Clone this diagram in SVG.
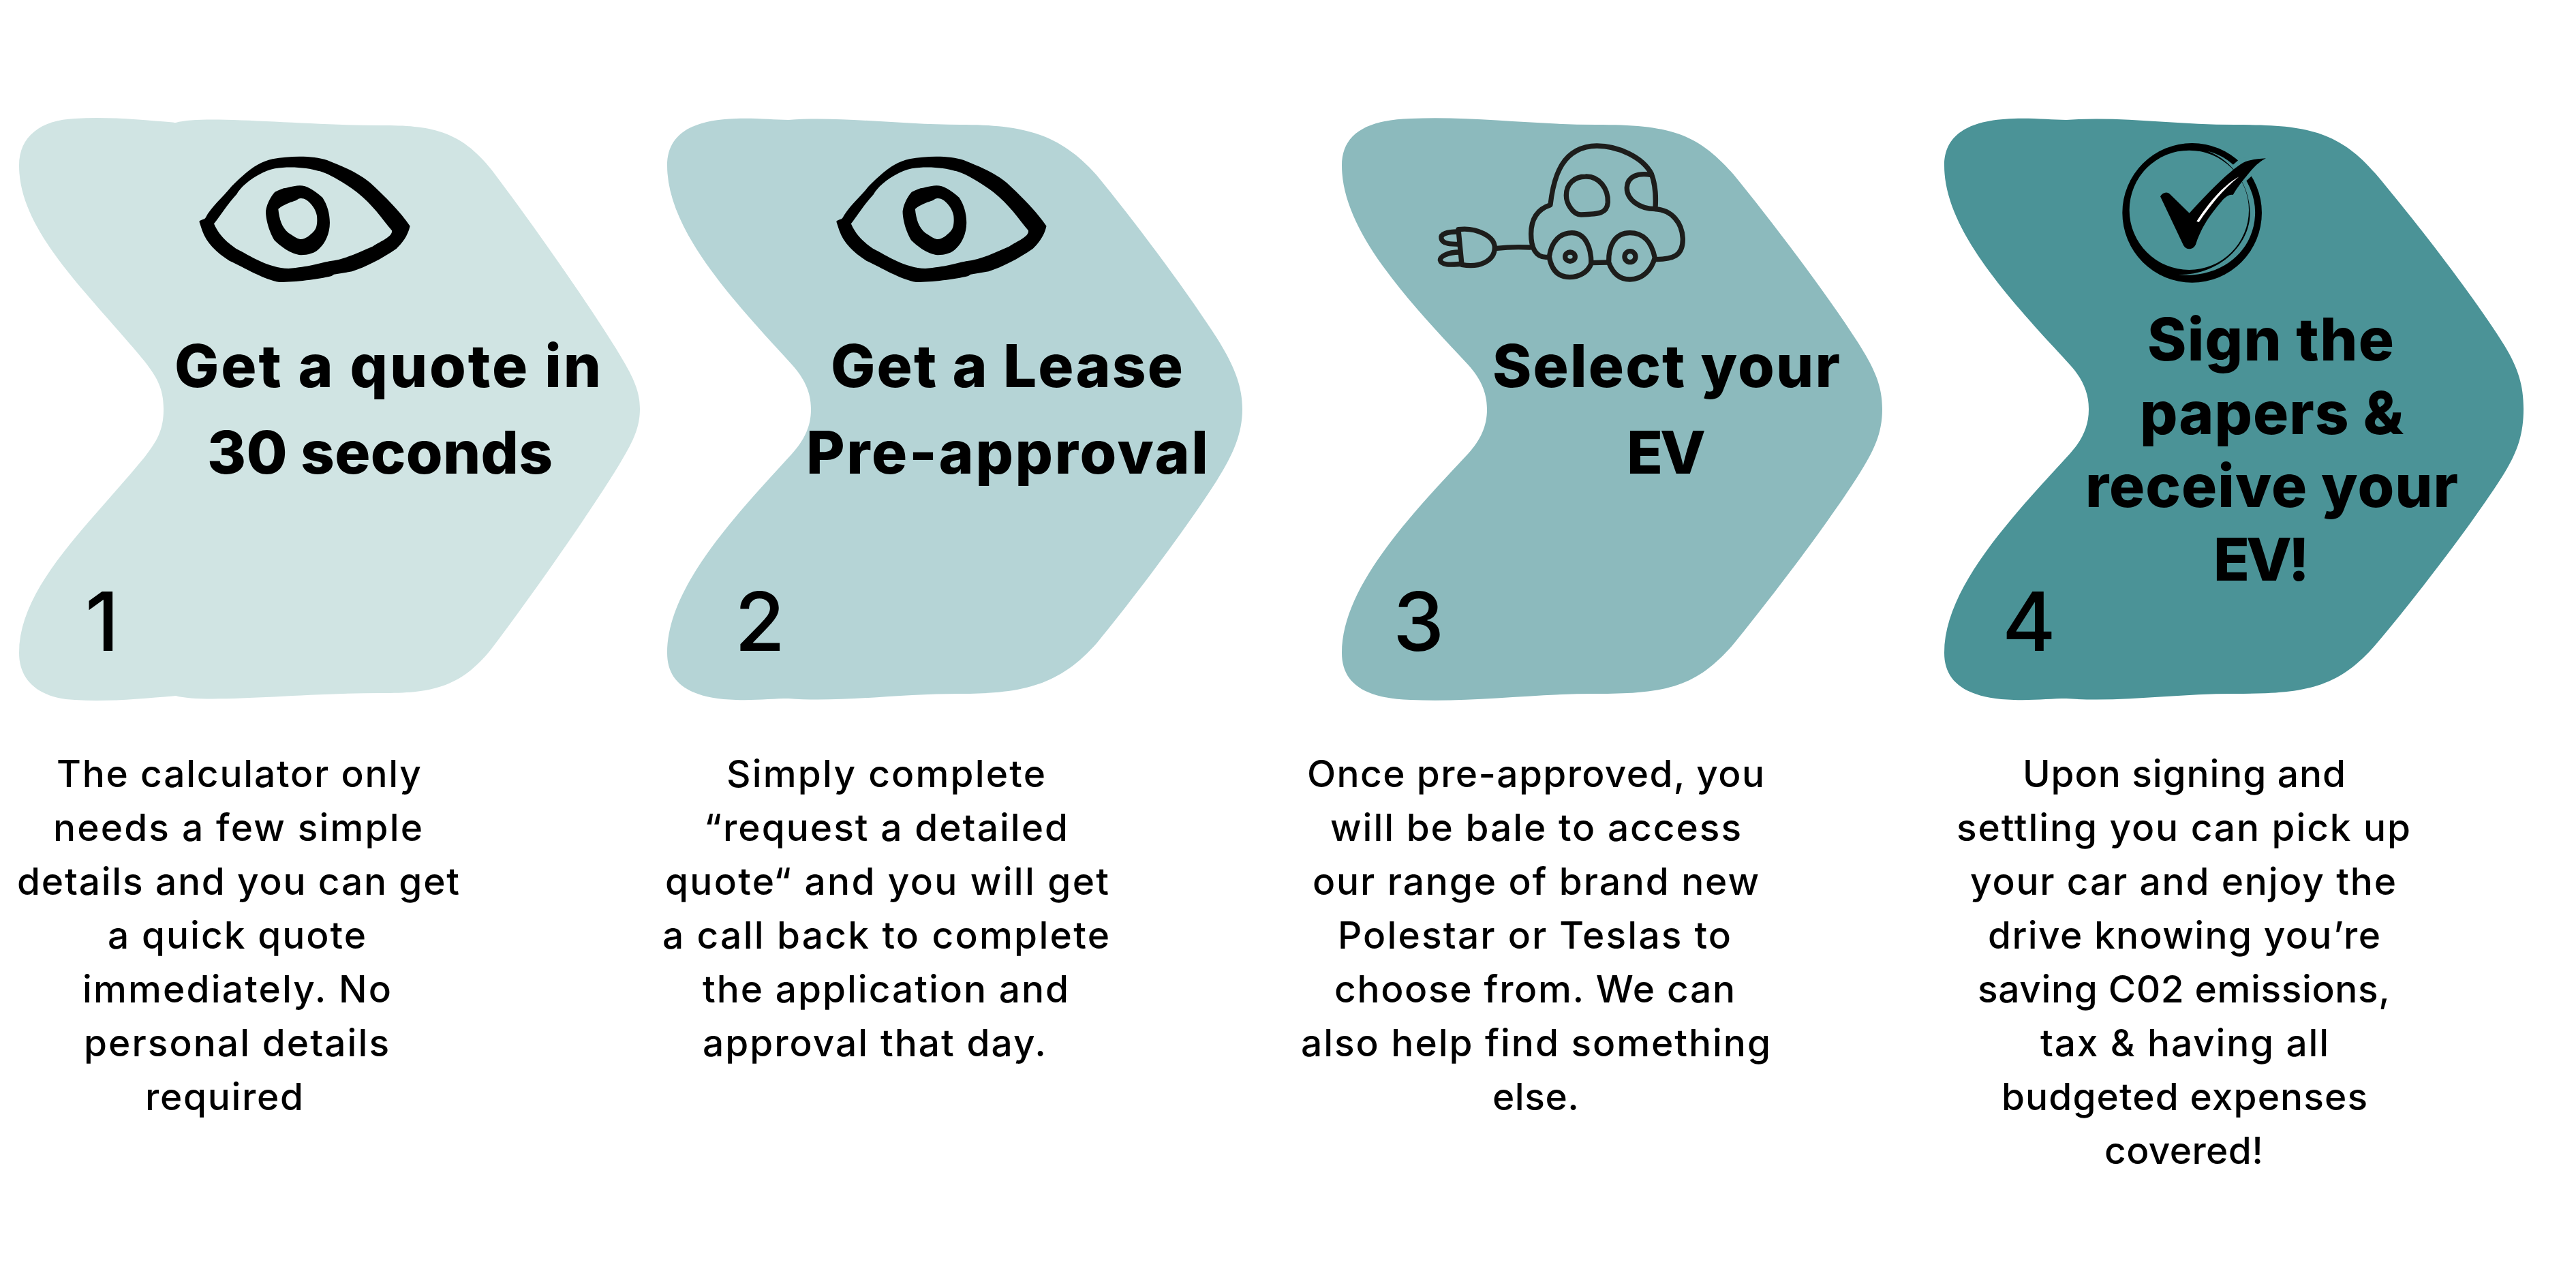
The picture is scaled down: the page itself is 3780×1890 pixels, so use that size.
<svg xmlns="http://www.w3.org/2000/svg" xmlns:xlink="http://www.w3.org/1999/xlink" width="3780" height="1890" viewBox="0 0 3780 1890">
<style>
.h{font-family:"Inter","Liberation Sans",sans-serif;font-weight:800;font-size:87px;fill:#000}
.b{font-family:"Inter","Liberation Sans",sans-serif;font-weight:500;font-size:55px;fill:#000}
.n{font-family:"Inter","Liberation Sans",sans-serif;font-weight:500;font-size:120px;fill:#000}
.car{fill:none;stroke:#1d1d1b;stroke-width:22;stroke-linecap:round;stroke-linejoin:round}
</style>
<defs>
<path id="eye" fill="#000" fill-rule="evenodd" d="M97 345 C105 335 118 338 124 330 C150 280 200 240 240 190 C300 130 350 85 420 70 C500 55 600 55 660 75 C720 100 790 125 850 175 C920 240 980 300 1025 365 C1015 410 990 440 965 465 C900 510 830 545 770 565 L690 578 L680 585 C620 600 520 612 450 612 C380 600 300 550 230 518 C170 480 130 440 110 385 Z M162 355 C190 420 240 450 260 465 C320 495 400 550 490 552 C580 545 620 530 670 520 C740 512 800 480 860 455 C900 430 950 410 945 385 C900 330 860 270 790 215 C730 170 650 125 620 122 C580 110 500 100 430 112 C350 130 280 190 262 225 C220 270 190 320 162 355 Z M390 300 C395 260 420 225 430 215 C450 205 465 198 480 197 C505 192 525 187 540 187 C570 187 600 205 640 240 C660 270 672 310 672 350 C672 400 650 440 630 460 C610 485 575 493 545 493 C500 490 450 450 430 430 C415 410 390 350 390 300 Z M445 290 C450 335 460 370 490 395 C520 415 535 423 545 423 C565 423 585 405 600 390 C615 375 618 350 615 320 C610 285 575 243 545 243 C530 243 530 252 515 255 C495 262 470 270 445 290 Z"/>
</defs>

<g id="step-1">
<path fill="#d0e4e3" d="M240 600 C240 570 230 553 212 530 C130 430 28 340 28 243 C28 200 60 176 110 174 C160 171 210 176 258 180 C300 168 440 184 560 184 C630 184 675 190 722 250 C790 340 880 470 912 525 C930 555 939 575 939 600 C939 626 930 646 912 676 C880 731 790 861 722 951 C675 1011 630 1017 560 1017 C440 1017 300 1033 258 1021 C210 1025 160 1030 110 1027 C60 1025 28 1001 28 958 C28 861 130 771 212 671 C230 648 240 631 240 601 Z"/>
<use xlink:href="#eye" href="#eye" transform="translate(260 210) scale(.3333)"/>
<text class="h" x="256" y="568" textLength="626">Get a quote in</text>
<text class="h" x="304" y="695" textLength="507">30 seconds</text>
<text class="n" x="125" y="955">1</text>
<g class="b">
<text x="83" y="1155" textLength="535">The calculator only</text>
<text x="78" y="1234" textLength="542">needs a few simple</text>
<text x="25" y="1313" textLength="649">details and you can get</text>
<text x="158" y="1392" textLength="379">a quick quote</text>
<text x="121" y="1471" textLength="453">immediately. No</text>
<text x="123" y="1550" textLength="448">personal details</text>
<text x="213" y="1629" textLength="232">required</text>
</g>
</g>

<g id="step-2">
<path fill="#b5d4d6" d="M1190 600 C1190 575 1180 555 1162 535 C1080 445 979 340 979 243 C979 200 1010 176 1080 174 C1110 173 1135 176 1157 176 C1230 170 1320 183 1409 183 C1500 183 1555 195 1610 258 C1665 325 1740 425 1785 495 C1810 535 1823 565 1823 600 C1823 636 1810 666 1785 706 C1740 776 1665 876 1610 943 C1555 1006 1500 1018 1409 1018 C1320 1018 1230 1031 1157 1025 C1135 1025 1110 1028 1080 1027 C1010 1025 979 1001 979 958 C979 861 1080 756 1162 666 C1180 646 1190 626 1190 601 Z"/>
<use xlink:href="#eye" href="#eye" transform="translate(1195 210) scale(.3322 .3333)"/>
<text class="h" x="1219" y="568" textLength="517">Get a Lease</text>
<text class="h" x="1183" y="695" textLength="590">Pre-approval</text>
<text class="n" x="1078" y="955">2</text>
<g class="b">
<text x="1066" y="1155" textLength="468">Simply complete</text>
<text x="1033" y="1234" textLength="534">“request a detailed</text>
<text x="976" y="1313" textLength="651">quote“ and you will get</text>
<text x="972" y="1392" textLength="656">a call back to complete</text>
<text x="1031" y="1471" textLength="537">the application and</text>
<text x="1031" y="1550" textLength="504">approval that day.</text>
</g>
</g>

<g id="step-3">
<path fill="#8cbabd" d="M2182 600 C2182 575 2172 555 2155 536 C2070 445 1969 340 1969 243 C1969 200 2000 176 2070 174 C2160 170 2250 183 2342 183 C2450 183 2490 195 2543 255 C2600 325 2680 430 2726 502 C2750 540 2762 565 2762 600 C2762 636 2750 661 2726 699 C2680 771 2600 876 2543 946 C2490 1006 2450 1018 2342 1018 C2250 1018 2160 1031 2070 1027 C2000 1025 1969 1001 1969 958 C1969 861 2070 756 2155 665 C2172 646 2182 626 2182 601 Z"/>
<g class="car" transform="translate(2080 190) scale(.3333)">
<path d="M570 562 C520 565 500 520 500 460 C500 390 530 350 585 332 C600 200 640 75 790 72 C880 72 990 120 1030 195 C1050 250 1050 300 1047 350 C1120 355 1165 410 1168 480 C1170 560 1120 570 1052 572"/>
<path d="M740 207 C800 205 840 260 838 320 C835 370 800 372 720 375 C680 375 655 320 655 290 C655 240 690 207 740 207 Z"/>
<path d="M1030 200 C970 190 925 205 922 255 C920 310 980 350 1047 350"/>
<path d="M580 560 C590 490 630 455 680 455 C740 455 765 520 765 590 C750 630 710 650 670 650 C620 650 590 620 580 560 Z"/>
<path d="M1045 565 C1030 490 990 455 935 455 C870 455 840 510 842 585 C860 635 890 660 935 660 C990 660 1030 620 1045 565 Z"/>
<ellipse cx="672" cy="560" rx="22" ry="20"/>
<ellipse cx="936" cy="560" rx="24" ry="24"/>
<path d="M765 587 L840 585 M350 523 C400 517 450 517 495 519"/>
<path d="M180 440 C260 430 340 470 340 520 C340 580 270 610 195 595 Z"/>
<path d="M180 450 C130 450 100 460 105 480 C110 505 150 505 182 505 M185 540 C130 540 100 560 100 575 C105 600 150 595 192 592"/>
</g>
<text class="h" x="2190" y="568" textLength="510">Select your</text>
<text class="h" x="2387" y="695" textLength="116">EV</text>
<text class="n" x="2044" y="955">3</text>
<g class="b">
<text x="1918" y="1155" textLength="671">Once pre-approved, you</text>
<text x="1952" y="1234" textLength="603">will be bale to access</text>
<text x="1926" y="1313" textLength="655">our range of brand new</text>
<text x="1963" y="1392" textLength="577">Polestar or Teslas to</text>
<text x="1958" y="1471" textLength="588">choose from. We can</text>
<text x="1909" y="1550" textLength="689">also help find something</text>
<text x="2190" y="1629" textLength="127">else.</text>
</g>
</g>

<g id="step-4">
<path fill="#4b9397" d="M3065 600 C3065 575 3055 555 3038 536 C2955 445 2853 340 2853 243 C2853 200 2885 176 2955 174 C2985 173 3010 176 3032 176 C3110 170 3190 183 3279 183 C3380 183 3430 190 3486 255 C3545 325 3630 435 3675 507 C3695 540 3703 565 3703 600 C3703 636 3695 661 3675 694 C3630 766 3545 876 3486 946 C3430 1011 3380 1018 3279 1018 C3190 1018 3110 1031 3032 1025 C3010 1025 2985 1028 2955 1027 C2885 1025 2853 1001 2853 958 C2853 861 2955 756 3038 665 C3055 646 3065 626 3065 601 Z"/>
<g transform="translate(3080 190) scale(.3333)">
<path fill="#000" fill-rule="evenodd" d="M717 367 A307 307 0 1 1 103 367 A307 307 0 1 1 717 367 Z M660 355 A263 263 0 1 0 134 355 A263 263 0 1 0 660 355 Z"/>
<path fill="#4b9397" d="M478 95 C620 130 695 270 687 380 C680 520 560 655 350 640 C540 640 665 500 665 370 C665 260 600 140 478 95 Z"/>
<path fill="#4b9397" d="M585 160 L625 125 L735 115 L672 205 L640 235 Z"/>
<path fill="#000" d="M270 295 C280 278 298 272 312 284 L398 368 C470 290 560 195 625 152 C650 135 690 130 735 127 C710 140 685 160 650 205 C625 235 610 255 590 288 C575 285 560 295 545 310 C500 365 460 410 428 500 C420 530 385 535 372 510 Z"/>
<path fill="#fff" d="M430 404 L440 408 C490 335 545 265 617 208 C540 250 480 330 430 404 Z"/>
</g>
<text class="h" x="3151" y="529" textLength="362">Sign the</text>
<text class="h" x="3140" y="637" textLength="387">papers &amp;</text>
<text class="h" x="3060" y="744" textLength="547">receive your</text>
<text class="h" x="3248" y="852" textLength="141">EV!</text>
<text class="n" x="2938" y="955">4</text>
<g class="b">
<text x="2968" y="1155" textLength="474">Upon signing and</text>
<text x="2871" y="1234" textLength="666">settling you can pick up</text>
<text x="2891" y="1313" textLength="625">your car and enjoy the</text>
<text x="2917" y="1392" textLength="576">drive knowing you’re</text>
<text x="2902" y="1471" textLength="605">saving C02 emissions,</text>
<text x="2994" y="1550" textLength="423">tax &amp; having all</text>
<text x="2937" y="1629" textLength="537">budgeted expenses</text>
<text x="3088" y="1708" textLength="233">covered!</text>
</g>
</g>
<g id="connectors"/>
</svg>
